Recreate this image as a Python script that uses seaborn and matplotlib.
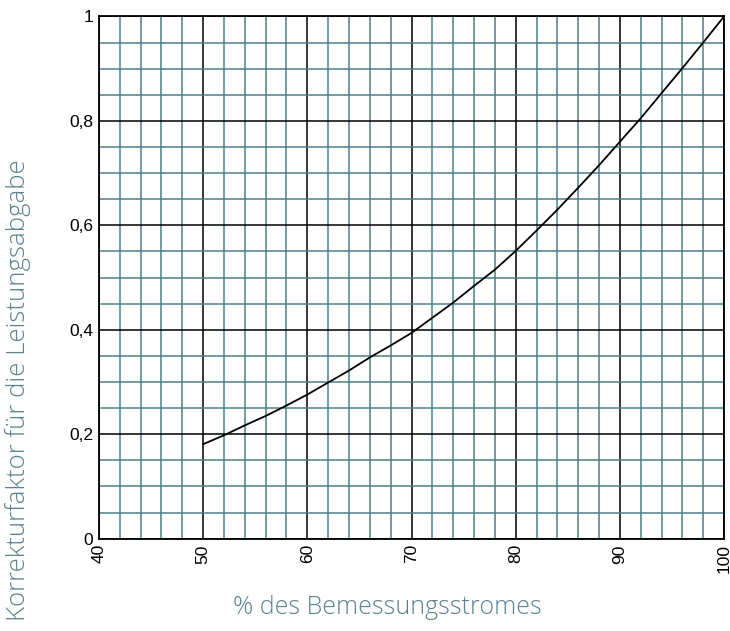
import seaborn as sns
import matplotlib.pyplot as plt
import pandas as pd
import numpy as np

# values
strom = [50, 52, 54, 56, 58, 60, 62, 64, 66, 68, 70, 72, 74, 76, 78,
         80, 82, 84, 86, 88, 90, 92, 94, 96, 98, 100]
faktor = [0.181, 0.198, 0.217, 0.235, 0.255, 0.276, 0.299, 0.322, 0.347,
          0.370, 0.394, 0.423, 0.452, 0.484, 0.515, 0.551, 0.590, 0.630,
          0.672, 0.715, 0.760, 0.805, 0.853, 0.901, 0.950, 1.0]
x_ticks = [40, 50, 60, 70, 80, 90, 100]
y_ticks = [0, 0.2, 0.4, 0.6, 0.8, 1]
y_ticklabels = ['0', '0,2', '0,4', '0,6', '0,8', '1']

sns.set_style('white')
plt.rcParams['font.family'] = ['Liberation Sans', 'DejaVu Sans']

df = pd.DataFrame({'strom': strom, 'faktor': faktor})

fig = plt.figure(figsize=(7.3, 6.31), dpi=100)
ax = fig.add_axes([0.1356, 0.1463, 0.8562, 0.8276])

teal = '#4d8089'
ax.set_xlim(40, 100)
ax.set_ylim(0, 1)
ax.set_xticks(x_ticks)
ax.set_xticks(np.arange(40, 101, 2), minor=True)
ax.set_yticks(y_ticks)
ax.set_yticks(np.arange(0, 1.001, 0.05), minor=True)
ax.set_yticklabels(y_ticklabels)
ax.set_xticklabels([str(v) for v in x_ticks], rotation=90)
ax.grid(which='major', color='black', linewidth=1.1)
ax.grid(which='minor', color=teal, linewidth=1.1)
ax.tick_params(which='both', length=0, labelsize=12.5, colors='black', pad=4)
ax.set_axisbelow(True)
for s in ax.spines.values():
    s.set_color('black')
    s.set_linewidth(1.3)

sns.lineplot(x='strom', y='faktor', data=df, ax=ax, color='black', linewidth=1.3)
ax.set_xlabel('')
ax.set_ylabel('')

lab_color = '#5b8290'
fig.text(387 / 730, 1 - 607 / 631, '% des Bemessungsstromes', ha='center', va='center',
         fontsize=18, color=lab_color, fontweight='light',
         family=['Open Sans', 'DejaVu Sans'])
fig.text(18 / 730, 1 - 390 / 631, 'Korrekturfaktor für die Leistungsabgabe', ha='center',
         va='center', rotation=90, fontsize=18.5, color=lab_color, fontweight='light',
         family=['Open Sans', 'DejaVu Sans'])

fig.savefig('out.png', dpi=100)
